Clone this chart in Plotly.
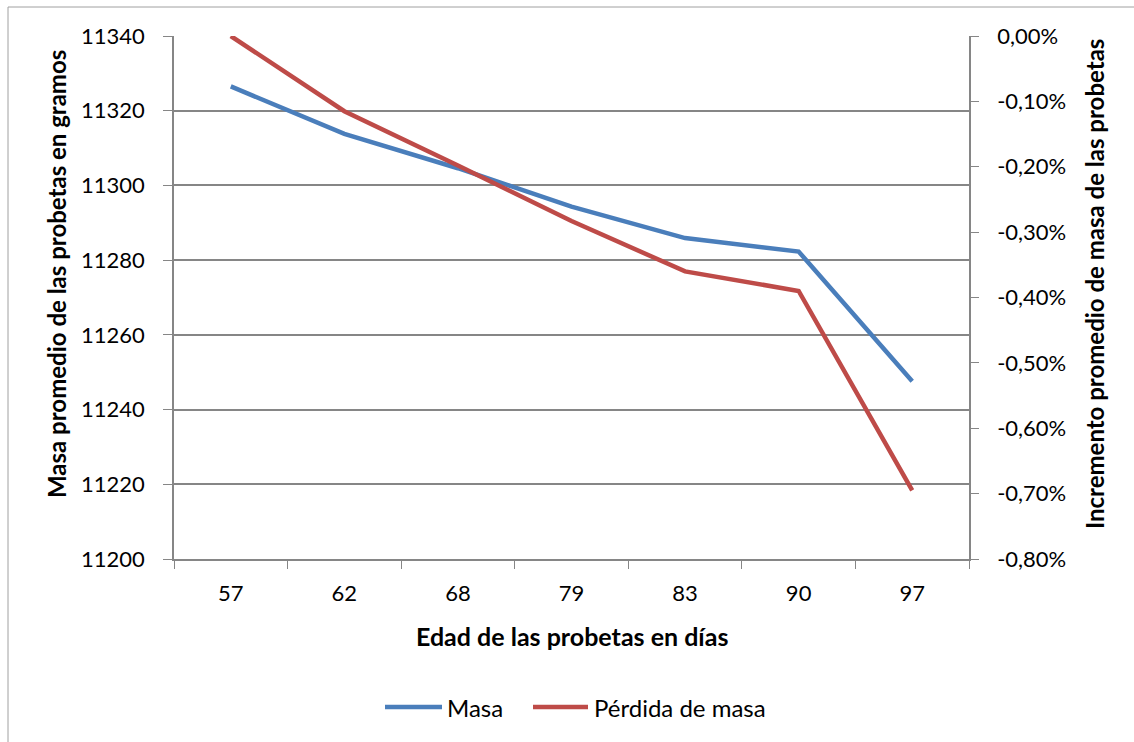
import plotly.graph_objects as go

# Edad de las probetas (días) y mediciones
edades = ["57", "62", "68", "79", "83", "90", "97"]
masa = [11326.5, 11313.8, 11304.6, 11294.3, 11285.9, 11282.3, 11247.6]
perdida = [0.0, -0.00115, -0.00198, -0.00283, -0.00360, -0.00390, -0.00695]

masa_ticks = [11200, 11220, 11240, 11260, 11280, 11300, 11320, 11340]
perdida_ticks = [-0.008, -0.007, -0.006, -0.005, -0.004, -0.003, -0.002, -0.001, 0.0]
perdida_labels = ["-0,80%", "-0,70%", "-0,60%", "-0,50%", "-0,40%",
                  "-0,30%", "-0,20%", "-0,10%", "0,00%"]

series_names = ["Masa", "Pérdida de masa"]
series_colors = ["#4A7EBB", "#BE4B48"]

FONT = "Lato, 'Open Sans', sans-serif"
AXIS_GRAY = "#868686"
TICK_SIZE = 22
TITLE_SIZE = 24

# plot area in pixels (used to place paper-referenced decorations)
L, R, T, B = 174, 969, 36, 559


def px(x):
    return (x - L) / (R - L)


def py(y):
    return (B - y) / (B - T)


fig = go.Figure()
fig.add_trace(go.Scatter(
    x=edades, y=masa, name=series_names[0], mode="lines",
    line=dict(color=series_colors[0], width=4.5), showlegend=False,
))
fig.add_trace(go.Scatter(
    x=edades, y=perdida, name=series_names[1], mode="lines",
    line=dict(color=series_colors[1], width=4.5), yaxis="y2", showlegend=False,
))

# legend drawn as line swatches with labels beneath the axis title
legend_items = [(385, 442, 445), (533, 588, 592)]
shapes = [
    dict(type="rect", xref="paper", yref="paper",
         x0=px(8), x1=px(1145), y0=py(7), y1=py(760),
         line=dict(color="#A0A0A0", width=1), fillcolor="rgba(0,0,0,0)",
         layer="below"),
]
annotations = [
    dict(text="<b>Masa promedio de las probetas en gramos</b>", textangle=-90,
         xref="paper", yref="paper", x=px(56), y=py(274),
         xanchor="center", yanchor="middle", showarrow=False,
         font=dict(size=TITLE_SIZE)),
    dict(text="<b>Incremento promedio de masa de las probetas</b>", textangle=-90,
         xref="paper", yref="paper", x=px(1094), y=py(284),
         xanchor="center", yanchor="middle", showarrow=False,
         font=dict(size=TITLE_SIZE)),
    dict(text="<b>Edad de las probetas en días</b>",
         xref="paper", yref="paper", x=px(572), y=py(636),
         xanchor="center", yanchor="middle", showarrow=False,
         font=dict(size=25)),
]
for (x0, x1, xt), name, color in zip(legend_items, series_names, series_colors):
    shapes.append(dict(type="line", xref="paper", yref="paper",
                       x0=px(x0), x1=px(x1), y0=py(707), y1=py(707),
                       line=dict(color=color, width=4.5)))
    annotations.append(dict(text=name, xref="paper", yref="paper",
                            x=px(xt), y=py(707), xanchor="left", yanchor="middle",
                            showarrow=False, font=dict(size=24)))

fig.update_layout(
    width=1134, height=742,
    margin=dict(l=L, r=1134 - R, t=T, b=742 - B),
    paper_bgcolor="white", plot_bgcolor="white",
    separators=",.",
    font=dict(family=FONT, size=TICK_SIZE, color="black"),
    xaxis=dict(
        type="category", showgrid=False, showline=True, linecolor=AXIS_GRAY,
        linewidth=1.5, ticks="outside", ticklen=8, tickcolor=AXIS_GRAY,
        tickson="boundaries", tickfont=dict(size=TICK_SIZE),
        ticklabelstandoff=14, range=[-0.5, 6.5],
    ),
    yaxis=dict(
        range=[11200, 11340], tickvals=masa_ticks, tickformat="d",
        showgrid=True, gridcolor=AXIS_GRAY, gridwidth=1.5,
        showline=True, linecolor=AXIS_GRAY, linewidth=1.5,
        ticks="outside", ticklen=9, tickcolor=AXIS_GRAY, zeroline=False,
        tickfont=dict(size=TICK_SIZE), ticklabelstandoff=14,
    ),
    yaxis2=dict(
        range=[-0.008, 0.0], tickvals=perdida_ticks, ticktext=perdida_labels,
        overlaying="y", side="right", showgrid=False,
        showline=True, linecolor=AXIS_GRAY, linewidth=1.5,
        ticks="outside", ticklen=8, tickcolor=AXIS_GRAY, zeroline=False,
        tickfont=dict(size=TICK_SIZE), ticklabelstandoff=14,
    ),
    annotations=annotations,
    shapes=shapes,
)

fig.write_html("out.html")
